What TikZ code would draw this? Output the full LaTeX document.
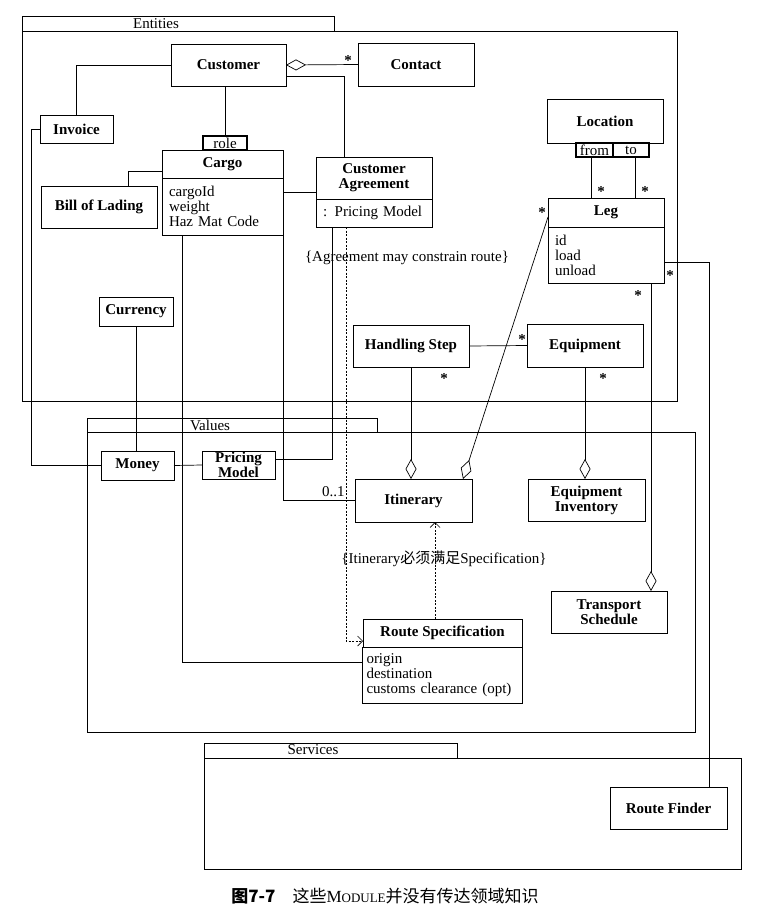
\documentclass[tikz,border=0pt]{standalone}
\usepackage{fontspec}
\setmainfont{Liberation Serif}
\newfontfamily\cjk{Noto Sans CJK SC}
\usetikzlibrary{arrows.meta,positioning}
\newcommand\txt{\fontsize{15}{15}\selectfont}
\tikzset{
  cls/.style={draw,fill=white,line width=.8pt,font=\txt\bfseries,align=center,inner sep=0pt,outer sep=0pt,anchor=north west},
  attrs/.style={draw,fill=white,line width=.8pt,font=\txt,align=left,inner xsep=7pt,inner ysep=0pt,outer sep=0pt,anchor=north},
  tag/.style={draw,fill=white,line width=1.4pt,font=\txt,inner sep=0pt,outer sep=0pt,anchor=north west},
  pkg/.style={draw,line width=.8pt,inner sep=0pt,anchor=north west},
  lnk/.style={line width=.7pt},
  agg/.style={lnk,-{Diamond[open,length=20pt,width=11pt]}},
  dep/.style={lnk,dash pattern=on 2pt off 1.5pt,-{Straight Barb[length=5pt,width=10pt]}},
  mult/.style={font=\txt\bfseries,inner sep=0pt,yshift=-2pt},
}
\begin{document}
\begin{tikzpicture}[x=1pt,y=-1pt]
\useasboundingbox (0,0) rectangle (756,918);
% packages
\foreach \n/\x/\y/\w/\h in {enttab/22/16/312/15,entbox/22/31/655/370,valtab/87/418/290/14,valbox/87/432/608/300,svctab/204/743/253/15,svcbox/204/758/537/111}
  \node[pkg,minimum width=\w pt,minimum height=\h pt] (\n) at (\x,\y) {};
\foreach \n/\x/\y/\t in {entlbl/156/24/Entities,vallbl/210/425/Values,svclbl/313/750/Services}
  \node[font=\txt] (\n) at (\x,\y) {\t};
% classes
\foreach \n/\x/\y/\w/\h/\t in {customer/171/44/115/42/Customer,contact/358/43/116/43/Contact,invoice/40/115/73/28/Invoice,
  cargo/162/150/121/28/Cargo,bol/41/186/116/42/Bill of Lading,ca/316/157/116/42/{Customer\\Agreement},
  location/547/99/116/44/Location,leg/548/198/116/29/Leg,currency/99/297/74/29/Currency,
  handling/353/325/116/42/Handling Step,equipment/527/324/116/43/Equipment,money/101/451/73/29/Money,
  pricing/202/451/73/28/{Pricing\\Model},itinerary/355/479/117/43/Itinerary,inventory/528/479/117/42/{Equipment\\Inventory},
  transport/551/591/116/42/{Transport\\Schedule},routespec/363/619/159/28/Route Specification,finder/610/787/117/42/Route Finder}
  \node[cls,minimum width=\w pt,minimum height=\h pt] (\n) at (\x,\y) {\t};
\node[attrs,text width=107pt,minimum height=57pt] (cargoattr) at (cargo.south) {cargoId\\weight\\Haz Mat Code};
\node[attrs,text width=102pt,minimum height=28pt] (caattr) at (ca.south) {: Pricing Model};
\node[attrs,text width=102pt,minimum height=56pt] (legattr) at (leg.south) {id\\load\\unload};
\node[attrs,inner xsep=4pt,text width=152pt,minimum height=56pt] (routeattr) at (routespec.south) {origin\\destination\\customs clearance (opt)};
\node[tag,minimum width=44pt,minimum height=14pt] (role) at (203,136) {role};
\node[tag,minimum width=37pt,minimum height=14pt] (from) at (576,143) {from};
\node[tag,minimum width=36pt,minimum height=14pt] (to) at (613,143) {to};
% associations
\draw[agg] (contact.west) -- (customer.east);
\draw[lnk] (customer.east |- 0,76) -| (ca.north -| 344,0);
\draw[lnk] (customer.west) -| (invoice.north);
\draw[lnk] (customer.south -| role.north) -- (role.north);
\draw[lnk] (cargo.west |- 0,171) -| (bol.north -| 128,0);
\draw[lnk] (cargoattr.east |- 0,192) -- (ca.west |- 0,192);
\draw[lnk] (invoice.west) -- ++(-9,0) |- (money.west);
\draw[lnk] (currency.south) -- (currency.south |- money.north);
\draw[lnk] (money.east) -- (pricing.west);
\draw[lnk] (caattr.south -| 332,0) |- (pricing.east |- 0,459);
\draw[lnk] (cargoattr.south -| 283,0) |- (itinerary.west) node[pos=.85,above,font=\txt] (card) {0..1};
\draw[lnk] (cargoattr.south -| 182,0) |- (routeattr.west |- 0,662);
\draw[dep] (caattr.south -| 346,0) |- (routespec.west |- 0,641);
\draw[dep] (routespec.north -| 435,0) -- (itinerary.south -| 435,0);
\draw[lnk] (from.south -| 591,0) -- (leg.north -| 591,0);
\draw[lnk] (to.south -| 635,0) -- (leg.north -| 635,0);
\draw[agg] (leg.west |- 0,217) -- ([xshift=-9pt]itinerary.north east);
\draw[lnk] (handling.east) -- (equipment.west);
\draw[agg] (handling.south) -- (handling.south |- itinerary.north);
\draw[agg] (equipment.south) -- (equipment.south |- inventory.north);
\draw[agg] (legattr.south -| 651,0) -- (transport.north -| 651,0);
\draw[lnk] (legattr.east |- 0,262) -| (finder.north -| 709,0);
\foreach \x/\y[count=\i] in {348/59,601/190,645/190,542/211,670/274,638/294,522/338,444/377,603/377}
  \node[mult] (star\i) at (\x,\y) {*};
% notes
\node[font=\txt] (agreenote) at (407,258) {\{Agreement may constrain route\}};
\node[font=\txt] (itinnote) at (444,559) {\{Itinerary{\cjk 必须满足}Specification\}};
\node[font=\fontsize{17}{17}\selectfont] (caption) at (385,896) {{\cjk\bfseries 图7-7}\quad{\cjk 这些}M{\fontsize{13}{13}\selectfont ODULE}{\cjk 并没有传达领域知识}};
\end{tikzpicture}
\end{document}
